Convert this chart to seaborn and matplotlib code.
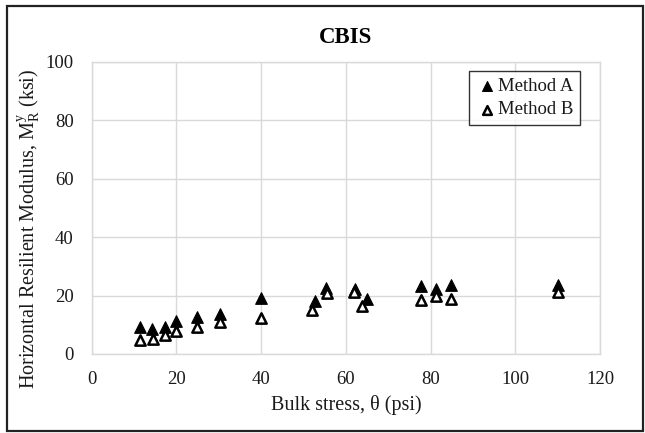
import matplotlib
matplotlib.use("Agg")
import matplotlib.pyplot as plt
import seaborn as sns
import pandas as pd
from matplotlib.patches import Rectangle

# Data
x_a = [11.5, 14.2, 17.3, 19.8, 24.8, 30.3, 40.0, 52.7, 55.3, 62.2, 64.9, 77.7, 81.4, 84.8, 110.0]
y_a = [9.4, 8.6, 9.1, 11.4, 12.6, 13.7, 19.1, 18.3, 22.5, 22.3, 18.9, 23.4, 22.3, 23.6, 23.8]
x_b = [11.5, 14.5, 17.3, 19.8, 24.8, 30.2, 40.0, 52.1, 55.5, 62.0, 63.7, 77.8, 81.4, 84.9, 110.0]
y_b = [4.8, 5.1, 6.6, 7.8, 9.4, 10.8, 12.2, 15.2, 20.8, 21.1, 16.6, 18.5, 20.0, 18.9, 21.1]
x_ticks = [0, 20, 40, 60, 80, 100, 120]
y_ticks = [0, 20, 40, 60, 80, 100]

df_a = pd.DataFrame({"x": x_a, "y": y_a, "method": "Method A"})
df_b = pd.DataFrame({"x": x_b, "y": y_b, "method": "Method B"})

sns.set_theme(style="white")
plt.rcParams["font.family"] = ["Liberation Serif", "DejaVu Serif"]
plt.rcParams["mathtext.fontset"] = "custom"
plt.rcParams["mathtext.rm"] = "Liberation Serif"
plt.rcParams["mathtext.it"] = "Liberation Serif:italic"
plt.rcParams["text.color"] = "black"

fig = plt.figure(figsize=(6.45, 4.33), dpi=100)
ax = fig.add_axes([91.7 / 645, 1 - 354 / 433, (600 - 91.7) / 645, (354 - 62) / 433])

sns.scatterplot(data=df_a, x="x", y="y", ax=ax, marker="^", s=70,
                color="black", edgecolor="black", linewidth=0.8,
                label="Method A", zorder=3)
sns.scatterplot(data=df_b, x="x", y="y", ax=ax, marker="^", s=55,
                facecolor="white", edgecolor="black", linewidth=1.8,
                label="Method B", zorder=3)

ax.set_xlim(0, 120)
ax.set_ylim(0, 100)
ax.set_xticks(x_ticks)
ax.set_yticks(y_ticks)
ax.grid(True, color="#d9d9d9", linewidth=1.0)
ax.set_axisbelow(True)
for sp in ax.spines.values():
    sp.set_color("#d9d9d9")
    sp.set_linewidth(1.0)
ax.tick_params(axis="both", length=0, labelsize=13.5, colors="#1a1a1a")
ax.tick_params(axis="y", pad=13)
ax.tick_params(axis="x", pad=12)

ax.set_xlabel("Bulk stress, θ (psi)", fontsize=14.5, color="#1a1a1a", labelpad=5)
ax.set_ylabel(r"Horizontal Resilient Modulus, M$^{\mathrm{y}}_{\mathrm{R}}$ (ksi)",
              fontsize=14.5, color="#1a1a1a")
ax.yaxis.set_label_coords(-0.098, 0.43)
ax.set_title("CBIS", fontsize=16.5, fontweight="bold", pad=14, color="black")

leg = ax.legend(loc="upper right", bbox_to_anchor=(0.961, 0.969), frameon=True,
                fancybox=False, edgecolor="black", fontsize=13.5,
                handletextpad=0.0, borderpad=0.35, labelspacing=0.35,
                handlelength=1.2, markerscale=0.85, borderaxespad=0)
leg.get_frame().set_linewidth(1.0)
for t in leg.get_texts():
    t.set_color("#1a1a1a")

# outer chart border
fig.patches.append(Rectangle((7 / 645, 2 / 433), 636 / 645, 425 / 433,
                             transform=fig.transFigure, fill=False,
                             edgecolor="#222222", linewidth=1.6))

fig.savefig("out.png", dpi=100)
